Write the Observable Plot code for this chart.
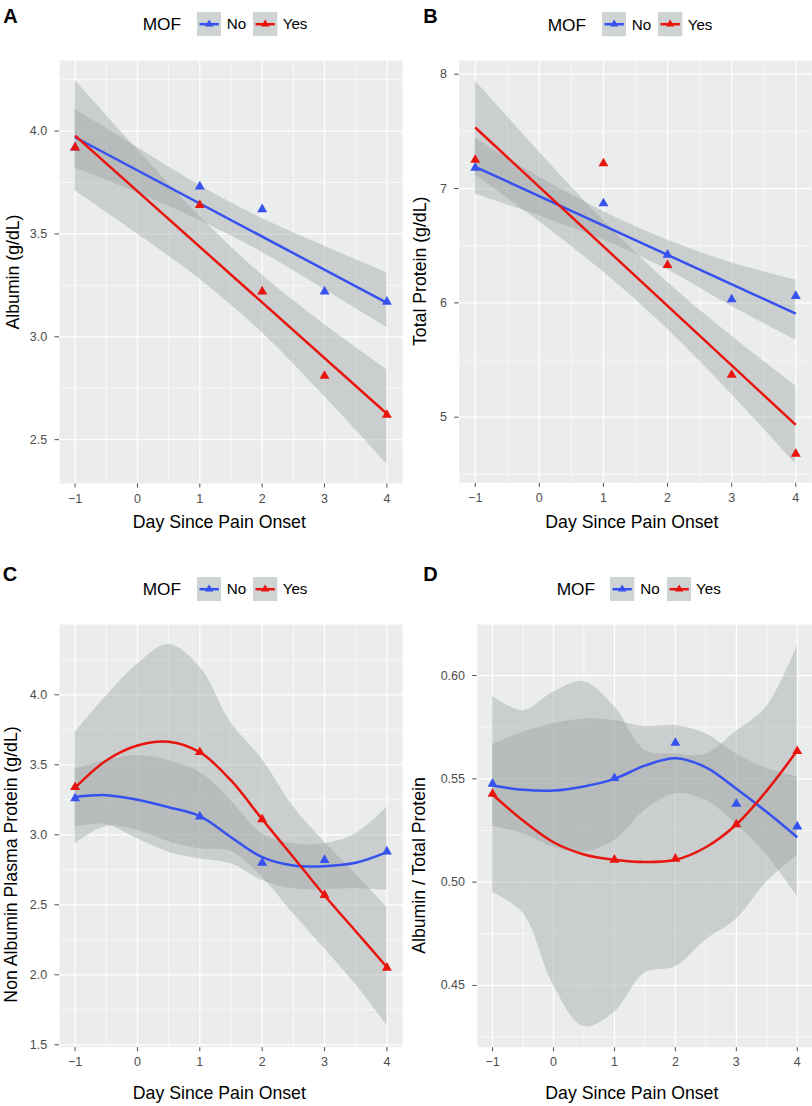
<!DOCTYPE html>
<html><head><meta charset="utf-8">
<script src="https://cdn.jsdelivr.net/npm/d3@7"></script>
<script src="https://cdn.jsdelivr.net/npm/@observablehq/plot@0.6"></script>
<style>
body{margin:0;background:#fff;font-family:"Liberation Sans",Arial,Helvetica,sans-serif;}
#fig{position:relative;width:812px;height:1106px;overflow:hidden;background:#fff}
.cell{position:absolute;width:406px;height:553px}
.cell svg{position:absolute;left:0;top:0}
.letter{position:absolute;font-weight:bold;font-size:20px;line-height:20px;color:#000}
.lt{position:absolute;height:24px;line-height:24px;white-space:nowrap;color:#000}
.key{position:absolute;width:24.3px;height:24.3px}
</style></head><body><div id="fig"></div>
<script>
// ---------- data ----------
const groups = ["No", "Yes"];
const groupColors = ["#3552ee", "#e8150f"];
const days = [-1, 1, 2, 3, 4];
const xTicks = [-1, 0, 1, 2, 3, 4];
const xTickLabels = ["\u22121", "0", "1", "2", "3", "4"];
const xMinor = [-0.5, 0.5, 1.5, 2.5, 3.5];
const fitDays = [-1, 4];
const bandDays = [-1, 0, 1, 2, 3, 4];
const smoothDays = [-1, -0.5, 0, 0.5, 1, 1.5, 2, 2.5, 3, 3.5, 4];

// A: Albumin
const albuminNo = [3.92, 3.73, 3.62, 3.22, 3.17];
const albuminYes = [3.92, 3.64, 3.22, 2.81, 2.62];
const albuminFitNo = [3.97, 3.165];
const albuminFitYes = [3.978, 2.626];
const albuminLoNo = [3.82, 3.70, 3.565, 3.41, 3.23, 3.045];
const albuminHiNo = [4.106, 3.92, 3.735, 3.575, 3.44, 3.311];
const albuminLoYes = [3.71, 3.50, 3.28, 3.02, 2.71, 2.382];
const albuminHiYes = [4.247, 3.91, 3.585, 3.30, 3.06, 2.84];
const albuminTicks = [2.5, 3.0, 3.5, 4.0];
const albuminTickLabels = ["2.5", "3.0", "3.5", "4.0"];
const albuminMinor = [2.75, 3.25, 3.75, 4.25];

// B: Total protein
const totalNo = [7.18, 6.87, 6.42, 6.03, 6.06];
const totalYes = [7.25, 7.22, 6.33, 5.37, 4.68];
const totalFitNo = [7.19, 5.906];
const totalFitYes = [7.534, 4.933];
const totalLoNo = [6.95, 6.76, 6.55, 6.29, 5.97, 5.674];
const totalHiNo = [7.44, 7.10, 6.80, 6.55, 6.35, 6.201];
const totalLoYes = [7.12, 6.71, 6.27, 5.77, 5.20, 4.589];
const totalHiYes = [7.942, 7.32, 6.72, 6.18, 5.71, 5.274];
const totalTicks = [5, 6, 7, 8];
const totalTickLabels = ["5", "6", "7", "8"];
const totalMinor = [4.5, 5.5, 6.5, 7.5];

// C: Non albumin plasma protein
const nonAlbNo = [3.26, 3.13, 2.80, 2.82, 2.88];
const nonAlbYes = [3.34, 3.59, 3.11, 2.57, 2.05];
const nonAlbFitNo = [3.27, 3.283, 3.25, 3.197, 3.133, 2.983, 2.84, 2.78, 2.776, 2.80, 2.876];
const nonAlbFitYes = [3.336, 3.531, 3.638, 3.665, 3.59, 3.388, 3.111, 2.84, 2.566, 2.311, 2.054];
const nonAlbLoNo = [3.055, 3.074, 2.971, 2.876, 2.828, 2.793, 2.674, 2.614, 2.61, 2.614, 2.602];
const nonAlbHiNo = [3.471, 3.531, 3.566, 3.531, 3.447, 3.245, 3.007, 2.936, 2.936, 3.007, 3.197];
const nonAlbLoYes = [2.936, 3.06, 3.03, 2.95, 2.90, 2.88, 2.697, 2.436, 2.186, 1.93, 1.638];
const nonAlbHiYes = [3.733, 3.99, 4.22, 4.36, 4.2, 3.80, 3.54, 3.20, 2.947, 2.72, 2.483];
const nonAlbTicks = [1.5, 2.0, 2.5, 3.0, 3.5, 4.0];
const nonAlbTickLabels = ["1.5", "2.0", "2.5", "3.0", "3.5", "4.0"];
const nonAlbMinor = [1.75, 2.25, 2.75, 3.25, 3.75, 4.25];

// D: Albumin / total protein
const ratioNo = [0.5476, 0.5503, 0.5674, 0.5379, 0.5269];
const ratioYes = [0.5427, 0.5108, 0.5113, 0.5279, 0.5634];
const ratioFitNo = [0.5468, 0.5447, 0.5443, 0.5463, 0.55, 0.5564, 0.56, 0.5556, 0.5452, 0.5339, 0.5217];
const ratioFitYes = [0.5424, 0.5298, 0.5193, 0.5134, 0.5108, 0.5097, 0.5108, 0.5169, 0.5279, 0.5443, 0.5637];
const ratioLoNo = [0.527, 0.5234, 0.5169, 0.5145, 0.5201, 0.5347, 0.5427, 0.5395, 0.528, 0.513, 0.493];
const ratioHiNo = [0.5666, 0.5726, 0.5766, 0.579, 0.5782, 0.5753, 0.5758, 0.5718, 0.5621, 0.555, 0.551];
const ratioLoYes = [0.495, 0.485, 0.450, 0.430, 0.437, 0.456, 0.459, 0.472, 0.482, 0.500, 0.513];
const ratioHiYes = [0.590, 0.583, 0.592, 0.597, 0.585, 0.564, 0.562, 0.562, 0.573, 0.585, 0.6145];
const ratioTicks = [0.45, 0.50, 0.55, 0.60];
const ratioTickLabels = ["0.45", "0.50", "0.55", "0.60"];
const ratioMinor = [0.425, 0.475, 0.525, 0.575];

const xTitle = "Day Since Pain Onset";
const legendTitle = "MOF";

// ---------- helpers ----------
const FONT = '"Liberation Sans", Arial, Helvetica, sans-serif';
const BG = "#ebeded";
const BAND = "#9aa1a1";
const rows = (xs, ys, group) => xs.map((x, i) => ({day: x, value: ys[i], group}));
const bandRows = (xs, lo, hi, group) => xs.map((x, i) => ({day: x, lo: lo[i], hi: hi[i], group}));

const panels = [
  {letter: "A", left: 0, top: 0, mL: 59, mR: 4, mT: 60, mB: 70, yDomain: [2.287, 4.343],
   yTicks: albuminTicks, yLabels: albuminTickLabels, yMinor: albuminMinor, yTitle: "Albumin (g/dL)",
   pts: [rows(days, albuminNo, "No"), rows(days, albuminYes, "Yes")],
   fit: [rows(fitDays, albuminFitNo, "No"), rows(fitDays, albuminFitYes, "Yes")],
   band: [bandRows(bandDays, albuminLoNo, albuminHiNo, "No"), bandRows(bandDays, albuminLoYes, albuminHiYes, "Yes")],
   fitCurve: "linear", bandCurve: "catmull-rom",
   xtX: 218.8, xtY: 521.7, ytX: 12.5, ytY: 271.5, letX: 3.3, letY: 8.3, legY: 24.3, legXs: [142.7, 196.7, 226.7, 253.3, 282.7]},
  {letter: "B", left: 406, top: 0, mL: 52.7, mR: 0.7, mT: 60, mB: 70.7, yDomain: [4.426, 8.12],
   yTicks: totalTicks, yLabels: totalTickLabels, yMinor: totalMinor, yTitle: "Total Protein (g/dL)",
   pts: [rows(days, totalNo, "No"), rows(days, totalYes, "Yes")],
   fit: [rows(fitDays, totalFitNo, "No"), rows(fitDays, totalFitYes, "Yes")],
   band: [bandRows(bandDays, totalLoNo, totalHiNo, "No"), bandRows(bandDays, totalLoYes, totalHiYes, "Yes")],
   fitCurve: "linear", bandCurve: "catmull-rom",
   xtX: 225.3, xtY: 522, ytX: 13.5, ytY: 270.8, letX: 17.3, letY: 8.3, legY: 24.5, legXs: [141.7, 195.7, 225.7, 252.3, 281.7]},
  {letter: "C", left: 0, top: 553, mL: 59, mR: 4, mT: 71, mB: 59.3, yDomain: [1.483, 4.502],
   yTicks: nonAlbTicks, yLabels: nonAlbTickLabels, yMinor: nonAlbMinor, yTitle: "Non Albumin Plasma Protein (g/dL)",
   pts: [rows(days, nonAlbNo, "No"), rows(days, nonAlbYes, "Yes")],
   fit: [rows(smoothDays, nonAlbFitNo, "No"), rows(smoothDays, nonAlbFitYes, "Yes")],
   band: [bandRows(smoothDays, nonAlbLoNo, nonAlbHiNo, "No"), bandRows(smoothDays, nonAlbLoYes, nonAlbHiYes, "Yes")],
   fitCurve: "catmull-rom", bandCurve: "catmull-rom",
   xtX: 218.8, xtY: 540.3, ytX: 10.8, ytY: 311, letX: 2.7, letY: 13.7, legY: 35.7, legXs: [142.7, 196.7, 226.7, 253.3, 282.7]},
  {letter: "D", left: 406, top: 553, mL: 70.8, mR: 0, mT: 71, mB: 59.3, yDomain: [0.4201, 0.6247],
   yTicks: ratioTicks, yLabels: ratioTickLabels, yMinor: ratioMinor, yTitle: "Albumin / Total Protein",
   pts: [rows(days, ratioNo, "No"), rows(days, ratioYes, "Yes")],
   fit: [rows(smoothDays, ratioFitNo, "No"), rows(smoothDays, ratioFitYes, "Yes")],
   band: [bandRows(smoothDays, ratioLoNo, ratioHiNo, "No"), bandRows(smoothDays, ratioLoYes, ratioHiYes, "Yes")],
   fitCurve: "catmull-rom", bandCurve: "catmull-rom",
   xtX: 225.3, xtY: 540.3, ytX: 12.7, ytY: 312, letX: 17.3, letY: 13.7, legY: 35.7, legXs: [150.7, 204.3, 234.3, 261, 290]}
];

const fig = document.getElementById("fig");

function makeKey(color) {
  const ns = "http://www.w3.org/2000/svg";
  const s = document.createElementNS(ns, "svg");
  s.setAttribute("width", "24.3"); s.setAttribute("height", "24.3");
  s.innerHTML = `<rect width="24.3" height="24.3" fill="#ced3d3"/>
    <line x1="2.5" x2="21.8" y1="12.2" y2="12.2" stroke="${color}" stroke-width="2.5"/>
    <path d="M12.15,7.6 L16.4,14.4 L7.9,14.4 Z" fill="${color}"/>`;
  return s;
}

for (const p of panels) {
  const cell = document.createElement("div");
  cell.className = "cell";
  cell.style.left = p.left + "px";
  cell.style.top = p.top + "px";
  fig.appendChild(cell);

  const W = 406, H = 553;
  const fcx = (p.mL + W - p.mR) / 2;
  const fcy = (p.mT + H - p.mB) / 2;

  const chart = Plot.plot({
    width: W, height: H,
    marginLeft: p.mL, marginRight: p.mR, marginTop: p.mT, marginBottom: p.mB,
    style: {fontFamily: FONT, fontSize: "12.5px", color: "#4d4d4d", background: "transparent", overflow: "visible"},
    x: {domain: [-1.25, 4.25], ticks: xTicks, tickFormat: d => xTickLabels[xTicks.indexOf(d)], tickSize: 4.5, tickPadding: 5.8, label: null},
    y: {domain: p.yDomain, ticks: p.yTicks, tickFormat: d => p.yLabels[p.yTicks.indexOf(d)], tickSize: 4.5, tickPadding: 7.8, label: null},
    color: {domain: groups, range: groupColors},
    marks: [
      Plot.frame({fill: BG, stroke: "none"}),
      Plot.ruleY(p.yMinor, {stroke: "white", strokeWidth: 0.6}),
      Plot.ruleX(xMinor, {stroke: "white", strokeWidth: 0.6}),
      Plot.ruleY(p.yTicks, {stroke: "white", strokeWidth: 1.2}),
      Plot.ruleX(xTicks, {stroke: "white", strokeWidth: 1.2}),
      Plot.areaY(p.band.flat(), {x: "day", y1: "lo", y2: "hi", z: "group", fill: BAND, fillOpacity: 0.4, curve: p.bandCurve}),
      Plot.line(p.fit.flat(), {x: "day", y: "value", z: "group", stroke: "group", strokeWidth: 2.5, strokeLinecap: "butt", curve: p.fitCurve}),
      Plot.dot(p.pts.flat(), {x: "day", y: "value", fill: "group", symbol: "triangle", r: 3.7, stroke: "none"}),
      Plot.text([xTitle], {text: d => d, frameAnchor: "bottom", dx: p.xtX - fcx, dy: p.xtY - (H - p.mB), lineAnchor: "middle", fontSize: 17.7, fill: "black"}),
      Plot.text([p.yTitle], {text: d => d, frameAnchor: "left", rotate: -90, dx: p.ytX - p.mL, dy: p.ytY - fcy, lineAnchor: "middle", textAnchor: "middle", fontSize: 17.7, fill: "black"})
    ]
  });
  // enlarge axis tick labels: match them by their text
  const tickTexts = new Set([...xTickLabels, ...p.yLabels]);
  chart.querySelectorAll("text").forEach(t => {
    if (tickTexts.has(t.textContent.trim())) {
      t.style.fontSize = "12.5px";
      t.style.fontFamily = FONT;
      t.style.fill = "#4d4d4d";
    }
  });
  cell.appendChild(chart);

  const letter = document.createElement("div");
  letter.className = "letter";
  letter.textContent = p.letter;
  letter.style.left = p.letX + "px";
  letter.style.top = (p.letY - 2.6) + "px";
  cell.appendChild(letter);

  const t = document.createElement("div");
  t.className = "lt";
  t.style.fontSize = "17.3px";
  t.textContent = legendTitle;
  t.style.left = p.legXs[0] + "px";
  t.style.top = (p.legY - 12) + "px";
  cell.appendChild(t);

  groups.forEach((g, i) => {
    const k = document.createElement("div");
    k.className = "key";
    k.style.left = p.legXs[1 + 2 * i] + "px";
    k.style.top = (p.legY - 12.15) + "px";
    k.appendChild(makeKey(groupColors[i]));
    cell.appendChild(k);
    const l = document.createElement("div");
    l.className = "lt";
    l.style.fontSize = "15.2px";
    l.textContent = g;
    l.style.left = p.legXs[2 + 2 * i] + "px";
    l.style.top = (p.legY - 12) + "px";
    cell.appendChild(l);
  });
}
</script></body></html>
